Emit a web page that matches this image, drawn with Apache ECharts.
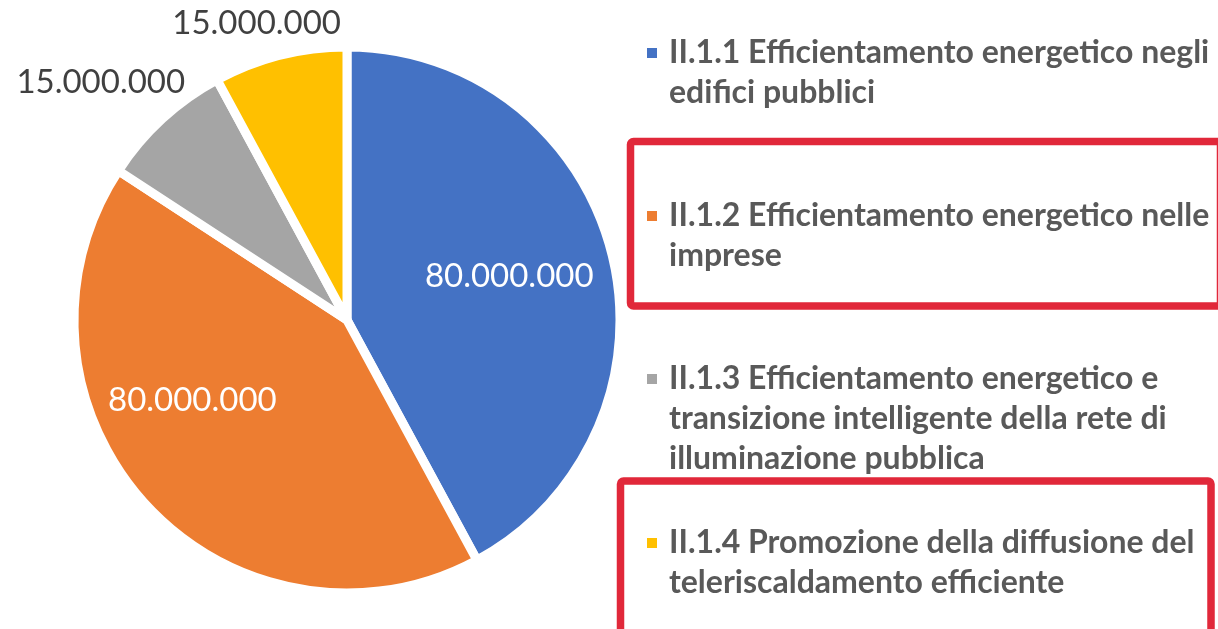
<!DOCTYPE html>
<html>
<head>
<meta charset="utf-8">
<title>Efficientamento energetico</title>
<script src="https://cdn.jsdelivr.net/npm/echarts@6/dist/echarts.min.js"></script>
<style>
  html, body { margin: 0; padding: 0; background: #fff; }
  #chart { width: 1218px; height: 629px; }
</style>
</head>
<body>
<div id="chart"></div>
<script>
// categorie (a capo come nella legenda originale)
var categorie = [
  'II.1.1 Efficientamento energetico negli\nedifici pubblici',
  'II.1.2 Efficientamento energetico nelle\nimprese',
  'II.1.3 Efficientamento energetico e\ntransizione intelligente della rete di\nilluminazione pubblica',
  'II.1.4 Promozione della diffusione del\nteleriscaldamento efficiente'
];
// importi in euro
var importi = [80000000, 80000000, 15000000, 15000000];
var colori = ['#4472C4', '#ED7D31', '#A5A5A5', '#FFC000'];

var chart = echarts.init(document.getElementById('chart'));

// formato italiano 80.000.000
function formatta(v) {
  return String(v).replace(/\B(?=(\d{3})+(?!\d))/g, '.');
}

// etichette: dentro per le fette grandi, fuori per le piccole
var etichetta = [
  { position: 'inside', color: '#fff', offset: [27, -9] },
  { position: 'inside', color: '#fff', offset: [-52, -14] },
  { position: 'outside', color: '#404040', offset: [28, -37] },
  { position: 'outside', color: '#404040', offset: [66, -32] }
];

var dati = categorie.map(function (nome, i) {
  return {
    name: nome,
    value: importi[i],
    itemStyle: { color: colori[i] },
    label: etichetta[i]
  };
});

// una legenda per voce, così le voci restano alla stessa distanza;
// righe vuote davanti per allineare il quadratino alla prima riga
var legendTop = [-7, 156, 279, 483];
var legende = categorie.map(function (nome, i) {
  var righe = nome.split('\n').length;
  return {
    data: [nome],
    orient: 'vertical',
    left: 645,
    top: legendTop[i],
    padding: 0,
    itemWidth: 12,
    itemHeight: 12,
    icon: 'rect',
    selectedMode: false,
    formatter: function (n) {
      return new Array(righe).join('\n') + n;
    },
    textStyle: {
      fontFamily: 'Lato',
      fontWeight: 'bold',
      fontSize: 32,
      lineHeight: 40,
      color: '#595959',
      padding: [0, 0, 0, 6]
    }
  };
});

var option = {
  animation: false,
  legend: legende,
  series: [{
    name: 'Importo',
    type: 'pie',
    center: [347, 320],
    radius: [0, 273],
    startAngle: 90,
    avoidLabelOverlap: false,
    itemStyle: {
      borderColor: '#fff',
      borderWidth: 9
    },
    label: {
      show: true,
      fontFamily: 'Lato',
      fontSize: 33,
      formatter: function (p) { return formatta(p.value); }
    },
    labelLine: { show: false, length: 0, length2: 0 },
    emphasis: { disabled: true },
    data: dati
  }],
  // riquadri rossi di evidenziazione
  graphic: [
    {
      type: 'rect',
      shape: { x: 630.5, y: 141.5, width: 590, height: 164.5, r: 3 },
      style: { fill: 'none', stroke: '#E1283A', lineWidth: 7.5 }
    },
    {
      type: 'rect',
      shape: { x: 620.5, y: 481, width: 590.5, height: 170, r: 3 },
      style: { fill: 'none', stroke: '#E1283A', lineWidth: 7.5 }
    }
  ]
};

chart.setOption(option);
</script>
</body>
</html>
